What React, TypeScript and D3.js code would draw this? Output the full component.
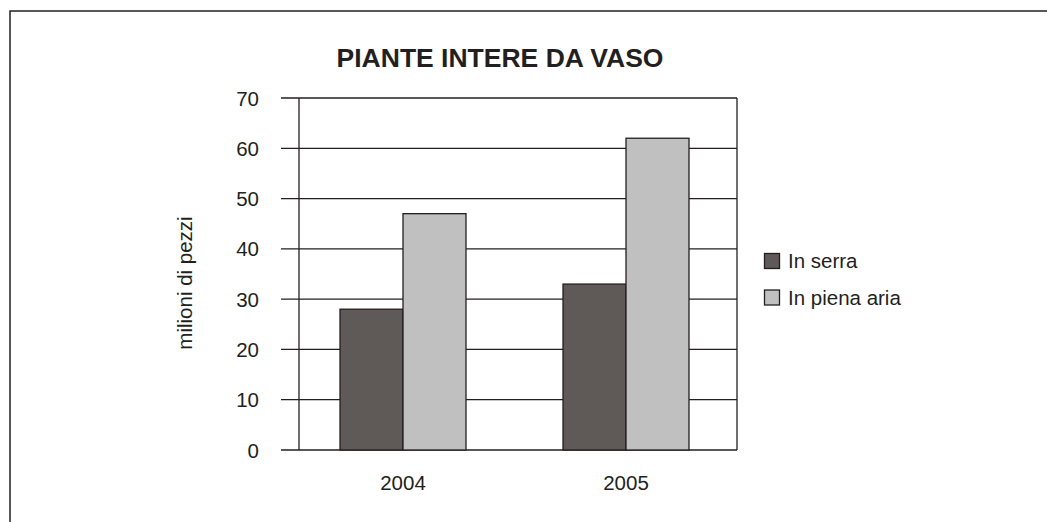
import React from "react";
import * as d3 from "d3";

const categories = ["2004", "2005"];
const seriesNames = ["In serra", "In piena aria"];
const serraValues = [28, 33];
const pienaAriaValues = [47, 62];
const yTicks = [0, 10, 20, 30, 40, 50, 60, 70];
const seriesColors = ["#5f5a58", "#c0c0c0"];

const W = 1047;
const H = 522;
const FONT = "'Liberation Sans', Arial, Helvetica, sans-serif";
const INK = "#231f20";

export default function App() {
  const plotLeft = 299;
  const plotRight = 737;
  const plotTop = 98;
  const plotBottom = 450;

  const y = d3.scaleLinear().domain([0, 70]).range([plotBottom, plotTop]);
  const x = d3
    .scaleBand<string>()
    .domain(categories)
    .range([291.5, 737.5])
    .paddingInner(0.435)
    .paddingOuter(0.2175);
  const xs = d3
    .scaleBand<string>()
    .domain(seriesNames)
    .range([0, x.bandwidth()]);

  const seriesValues = [serraValues, pienaAriaValues];

  return (
    <svg
      width={W}
      height={H}
      style={{ position: "absolute", left: 0, top: 0, background: "#fff" }}
      fontFamily={FONT}
    >
      <rect x={0} y={0} width={W} height={H} fill="#fff" />
      {/* outer frame */}
      <rect x={10} y={11} width={1200} height={800} fill="none" stroke={INK} strokeWidth={1.5} />

      {/* title */}
      <text x={500} y={66.5} textAnchor="middle" fontSize={26.5} fontWeight="bold" fill={INK}>
        PIANTE INTERE DA VASO
      </text>

      {/* gridlines and ticks */}
      {yTicks.map((t) => (
        <g key={t}>
          <line x1={281} x2={plotRight} y1={y(t)} y2={y(t)} stroke={INK} strokeWidth={1.3} />
          <text
            x={259}
            y={y(t)}
            textAnchor="end"
            dominantBaseline="central"
            fontSize={20.5}
            fill={INK}
          >
            {t}
          </text>
        </g>
      ))}
      <line x1={plotLeft} x2={plotLeft} y1={plotTop} y2={plotBottom} stroke={INK} strokeWidth={1.3} />
      <line x1={plotRight} x2={plotRight} y1={plotTop} y2={plotBottom} stroke={INK} strokeWidth={1.3} />

      {/* bars */}
      {categories.map((c, ci) => (
        <g key={c}>
          {seriesNames.map((s, si) => {
            const v = seriesValues[si][ci];
            const bx = (x(c) ?? 0) + (xs(s) ?? 0);
            return (
              <rect
                key={s}
                x={bx}
                y={y(v)}
                width={xs.bandwidth()}
                height={y(0) - y(v)}
                fill={seriesColors[si]}
                stroke={INK}
                strokeWidth={1.3}
              />
            );
          })}
          <text
            x={(x(c) ?? 0) + x.bandwidth() / 2}
            y={490}
            textAnchor="middle"
            fontSize={20.5}
            fill={INK}
          >
            {c}
          </text>
        </g>
      ))}

      {/* y axis label */}
      <text
        transform="translate(192,283) rotate(-90)"
        textAnchor="middle"
        fontSize={20.5}
        fill={INK}
      >
        milioni di pezzi
      </text>

      {/* legend */}
      {seriesNames.map((s, i) => (
        <g key={s} transform={`translate(764,${253.5 + i * 36.5})`}>
          <rect x={0.5} y={0} width={15} height={15} fill={seriesColors[i]} stroke={INK} strokeWidth={1.3} />
          <text x={24} y={14.5} fontSize={20.5} fill={INK}>
            {s}
          </text>
        </g>
      ))}
    </svg>
  );
}
